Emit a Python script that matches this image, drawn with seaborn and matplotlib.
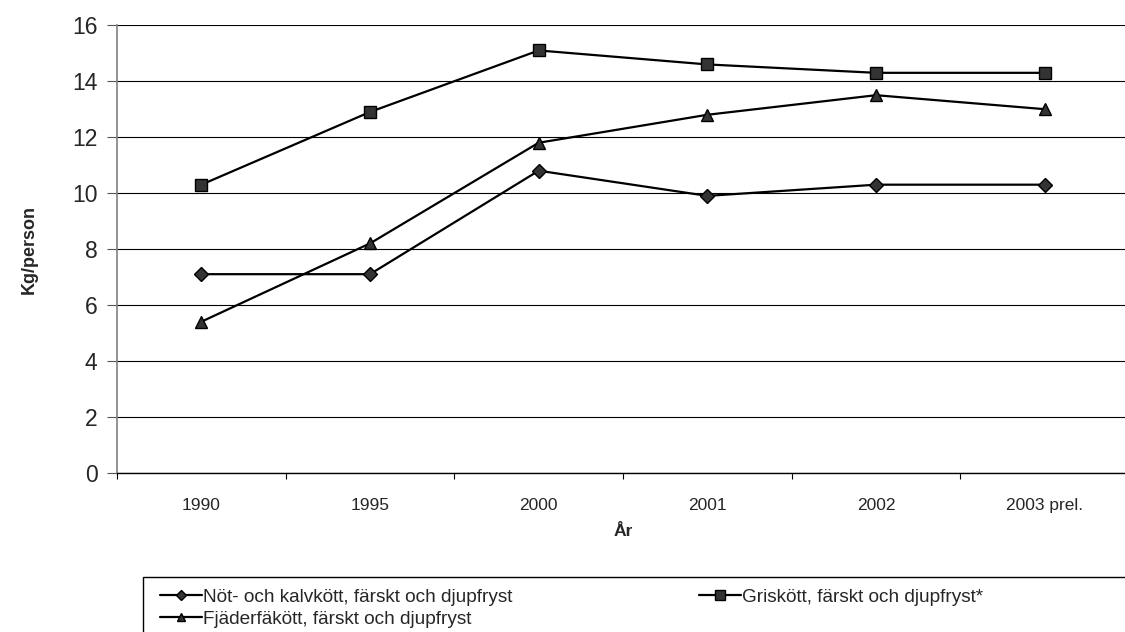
import pandas as pd
import seaborn as sns
import matplotlib.pyplot as plt
from matplotlib.patches import Rectangle

years = ['1990', '1995', '2000', '2001', '2002', '2003 prel.']
not_kalv = [7.1, 7.1, 10.8, 9.9, 10.3, 10.3]
gris = [10.3, 12.9, 15.1, 14.6, 14.3, 14.3]
fjader = [5.4, 8.2, 11.8, 12.8, 13.5, 13.0]

series_names = ['Nöt- och kalvkött, färskt och djupfryst',
                'Griskött, färskt och djupfryst*',
                'Fjäderfäkött, färskt och djupfryst']
series_vals = [not_kalv, gris, fjader]
markers = ['D', 's', '^']
msizes = [7, 8.5, 8]

rows = []
for name, vals in zip(series_names, series_vals):
    for y, v in zip(years, vals):
        rows.append({'År': y, 'Kg/person': v, 'Serie': name})
df = pd.DataFrame(rows)

sns.set_style("white")
plt.rcParams['font.family'] = ['Liberation Sans', 'DejaVu Sans']

fig = plt.figure(figsize=(11.25, 6.32), dpi=100)
ax = fig.add_axes([0.104, 0.252, 0.8996, 0.708])

for name, mk, ms in zip(series_names, markers, msizes):
    sub = df[df['Serie'] == name]
    sns.lineplot(data=sub, x='År', y='Kg/person', sort=False, ax=ax,
                 color='black', linewidth=1.6, marker=mk, markersize=ms,
                 markerfacecolor='#333333', markeredgecolor='black',
                 markeredgewidth=1.0, label=name)

if ax.get_legend() is not None:
    ax.get_legend().remove()

n = len(years)
ax.set_xlim(-0.5, n - 0.5)
ax.set_ylim(0, 16)
ax.set_yticks(range(0, 17, 2))
ax.tick_params(axis='y', labelsize=16.5, length=7, width=0.8, color='#555555',
               direction='out', left=True, pad=7)
ax.set_xticks([i + 0.5 for i in range(-1, n)])
ax.set_xticklabels([])
ax.set_xticks(range(n), minor=True)
ax.set_xticklabels(years, minor=True)
ax.tick_params(axis='x', which='major', length=4, width=0.8, color='black',
               direction='out', bottom=True)
ax.tick_params(axis='x', which='minor', length=0, labelsize=12.5, pad=18)

ax.grid(axis='y', color='black', linewidth=0.8)
ax.set_axisbelow(True)
for s in ['top', 'right']:
    ax.spines[s].set_visible(False)
ax.spines['left'].set_color('#808080')
ax.spines['left'].set_linewidth(1.2)
ax.spines['bottom'].set_color('black')
ax.spines['bottom'].set_linewidth(1.0)

ax.set_xlabel('År', fontsize=12.5, fontweight='bold', labelpad=8)
ax.set_ylabel('Kg/person', fontsize=13, fontweight='bold', labelpad=25)

# legend: row-wise order in two columns
order = [0, 2, 1]
leg_handles = []
for i in order:
    h = plt.Line2D([], [], color='black', linewidth=1.6, marker=markers[i],
                   markersize=msizes[i] * 0.8, markerfacecolor='#333333',
                   markeredgecolor='black')
    leg_handles.append(h)
fig.legend(leg_handles, [series_names[i] for i in order],
           loc='upper left', bbox_to_anchor=(0.134, 0.084), ncol=2,
           frameon=False, fontsize=13.7, handlelength=2.2, handletextpad=0.05,
           columnspacing=9.8, labelspacing=0.25, borderpad=0)

fig.patches.append(Rectangle((143 / 1125, -0.05), 1.0, 0.05 + (632 - 577) / 632,
                             transform=fig.transFigure, fill=False,
                             edgecolor='black', linewidth=1.0))

plt.savefig('out.png', dpi=100)
